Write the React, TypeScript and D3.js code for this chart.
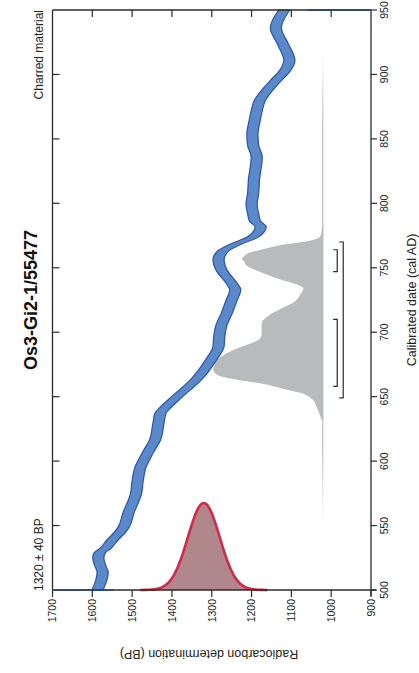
import React from "react";
import * as d3 from "d3";

// ---- Data ----
const TITLE = "Os3-Gi2-1/55477";
const MATERIAL = "Charred material";
const MEASUREMENT_LABEL = "1320 ± 40 BP";
const MEAN_BP = 1320;
const SIGMA_BP = 40;

const BP_TICKS = [1700, 1600, 1500, 1400, 1300, 1200, 1100, 1000, 900];
const CAL_TICKS = [500, 550, 600, 650, 700, 750, 800, 850, 900, 950];

// calibration curve (cal AD year -> BP centre)
const CURVE_YEARS = [500, 508, 514, 518, 525, 529, 532, 539, 545, 549, 560, 575, 585, 596, 601, 608, 616, 629, 637, 642, 650, 663, 678, 689, 697, 704, 715, 725, 733, 738, 748, 756, 762, 768, 774, 782, 786, 792, 799, 808, 818, 836, 845, 854, 863, 872, 880, 888, 896, 901, 911, 924, 936, 950];
const CURVE_BP = [1587, 1577, 1574, 1579, 1585, 1581, 1568, 1549, 1530, 1521, 1509, 1490, 1486, 1478, 1470, 1458, 1443, 1434, 1429, 1415, 1387, 1340, 1303, 1283, 1281, 1277, 1262, 1250, 1241, 1250, 1275, 1283, 1275, 1242, 1196, 1177, 1191, 1196, 1200, 1196, 1194, 1187, 1196, 1198, 1193, 1187, 1179, 1160, 1137, 1121, 1105, 1122, 1139, 1118];
const CURVE_ERR = 14;

// calibrated probability (relative)
const PROB_YEARS = [632, 642, 648, 653, 656, 660, 663, 666, 668, 671, 674, 678, 686, 690, 695, 699, 703, 707, 712, 718, 723, 729, 734, 737, 741, 746, 752, 755, 757, 759, 762, 765, 768, 771, 774, 778, 782];
const PROB_VALUES = [0.015, 0.06, 0.1, 0.21, 0.36, 0.55, 0.77, 0.94, 0.98, 1.0, 0.99, 0.97, 0.82, 0.7, 0.575, 0.56, 0.56, 0.56, 0.51, 0.39, 0.27, 0.21, 0.18, 0.24, 0.39, 0.55, 0.7, 0.72, 0.74, 0.72, 0.66, 0.52, 0.36, 0.12, 0.03, 0.015, 0.01];
const PROB_TAIL = [555, 915];

const RANGE_68 = [[658, 710], [747, 764]];
const RANGE_95 = [[649, 770]];

const CLIPPED_TRACES = [
  { bp: [1700, 1545], year: 500 },
  { bp: [1060, 900], year: 950 },
];

// ---- Layout ----
const W = 419;
const H = 673;
const FONT = "'Liberation Sans', Arial, Helvetica, sans-serif";
const AXIS = "#2b2b2b";

export default function App() {
  const x = d3.scaleLinear().domain([1700, 900]).range([52.5, 371]);
  const y = d3.scaleLinear().domain([500, 950]).range([590, 10]);

  // blue calibration band
  const curvePts = CURVE_YEARS.map((yr, i) => ({ yr, bp: CURVE_BP[i] }));
  const band = d3
    .area<{ yr: number; bp: number }>()
    .y((d) => y(d.yr))
    .x0((d) => x(d.bp + CURVE_ERR))
    .x1((d) => x(d.bp - CURVE_ERR))
    .curve(d3.curveMonotoneY)(curvePts);

  // measurement gaussian
  const gx = d3.range(MEAN_BP - 4 * SIGMA_BP, MEAN_BP + 4 * SIGMA_BP + 0.1, 2);
  const gPts = gx.map((bp) => ({ bp, p: Math.exp(-0.5 * ((bp - MEAN_BP) / SIGMA_BP) ** 2) }));
  const gy = d3.scaleLinear().domain([0, 1]).range([590, 503]);
  const gArea = d3
    .area<{ bp: number; p: number }>()
    .x((d) => x(d.bp))
    .y0(gy(0))
    .y1((d) => gy(d.p))
    .curve(d3.curveBasis)(gPts);
  const gLine = d3
    .line<{ bp: number; p: number }>()
    .x((d) => x(d.bp))
    .y((d) => gy(d.p))
    .curve(d3.curveBasis)(gPts);

  // calibrated distribution
  const baseX = x(1020);
  const pw = d3.scaleLinear().domain([0, 1]).range([baseX, baseX - 110]);
  const probPts = PROB_YEARS.map((yr, i) => ({ yr, p: PROB_VALUES[i] }));
  const probArea = d3
    .area<{ yr: number; p: number }>()
    .y((d) => y(d.yr))
    .x0(baseX)
    .x1((d) => pw(d.p))
    .curve(d3.curveMonotoneY)(probPts);

  const innerX = baseX + 14;
  const outerX = baseX + 20;
  const bracket = (r: number[], bx: number, key: string) => (
    <path
      key={key}
      d={`M${bx - 4},${y(r[1])}H${bx}V${y(r[0])}H${bx - 4}`}
      fill="none"
      stroke={AXIS}
      strokeWidth={1.2}
    />
  );

  const top = y(950);
  const bottom = y(500);
  const left = x(1700);
  const right = x(900);

  return (
    <svg
      width={W}
      height={H}
      style={{ position: "absolute", left: 0, top: 0, background: "#fff" }}
      fontFamily={FONT}
    >
      <defs>
        <linearGradient id="tailFade" x1="0" y1="0" x2="0" y2="1">
          <stop offset="0" stopColor="#c4c5c7" stopOpacity={0} />
          <stop offset="0.15" stopColor="#c4c5c7" stopOpacity={1} />
          <stop offset="0.85" stopColor="#c4c5c7" stopOpacity={1} />
          <stop offset="1" stopColor="#c4c5c7" stopOpacity={0} />
        </linearGradient>
      </defs>

      {/* tail of calibrated distribution */}
      <rect
        x={baseX - 1.2}
        y={y(PROB_TAIL[1])}
        width={1.4}
        height={y(PROB_TAIL[0]) - y(PROB_TAIL[1])}
        fill="url(#tailFade)"
      />
      <path d={probArea || ""} fill="#b9babc" />

      {/* ranges */}
      {RANGE_68.map((r, i) => bracket(r, innerX, "r68" + i))}
      {RANGE_95.map((r, i) => bracket(r, outerX, "r95" + i))}

      {/* calibration curve */}
      <path d={band || ""} fill="#5b88c9" stroke="#2a55a5" strokeWidth={1.2} />

      {/* measurement */}
      <path d={gArea || ""} fill="#b0878a" />
      <path d={gLine || ""} fill="none" stroke="#d3294b" strokeWidth={2.6} />

      {/* frame */}
      <line x1={left} x2={right} y1={top} y2={top} stroke={AXIS} strokeWidth={1.3} />
      <line x1={left} x2={left} y1={top} y2={bottom} stroke={AXIS} strokeWidth={1.3} />
      <line x1={left} x2={right + 5} y1={bottom} y2={bottom} stroke={AXIS} strokeWidth={1.3} />
      <line x1={right} x2={right} y1={top} y2={bottom + 6} stroke={AXIS} strokeWidth={1.3} />

      {CLIPPED_TRACES.map((t, i) => (
        <line
          key={"tr" + i}
          x1={x(t.bp[0])}
          x2={x(t.bp[1])}
          y1={y(t.year)}
          y2={y(t.year)}
          stroke="#24457f"
          strokeWidth={1.6}
        />
      ))}

      {/* bottom axis */}
      {BP_TICKS.map((t) => (
        <g key={"b" + t} transform={`translate(${x(t)},${bottom})`}>
          <line y1={0} y2={7} stroke={AXIS} strokeWidth={1.2} />
          <text
            transform="translate(0,9) rotate(-90)"
            textAnchor="end"
            dy="0.36em"
            fontSize={10.5}
            fill="#222"
          >
            {t}
          </text>
        </g>
      ))}
      {/* top frame ticks */}
      {BP_TICKS.slice(1, -1).map((t) => (
        <line key={"t" + t} x1={x(t)} x2={x(t)} y1={top} y2={top + 7} stroke={AXIS} strokeWidth={1.2} />
      ))}
      {/* left frame ticks */}
      {CAL_TICKS.slice(1, -1).map((t) => (
        <line key={"l" + t} x1={left} x2={left + 7} y1={y(t)} y2={y(t)} stroke={AXIS} strokeWidth={1.2} />
      ))}
      {/* right axis */}
      {CAL_TICKS.map((t) => (
        <g key={"r" + t} transform={`translate(${right},${y(t)})`}>
          <line x1={0} x2={6} stroke={AXIS} strokeWidth={1.2} />
          <text transform="translate(17,0) rotate(-90)" textAnchor="middle" fontSize={10.5} fill="#222">
            {t}
          </text>
        </g>
      ))}

      {/* axis titles */}
      <text
        transform={`translate(416,${(top + bottom) / 2}) rotate(-90)`}
        textAnchor="middle"
        fontSize={12.5}
        fill="#222"
      >
        Calibrated date (cal AD)
      </text>
      <text
        transform={`translate(209,650) rotate(180)`}
        textAnchor="middle"
        fontSize={12.5}
        fill="#222"
      >
        Radiocarbon determination (BP)
      </text>

      {/* annotations */}
      <text
        transform={`translate(37,${(top + bottom) / 2}) rotate(-90)`}
        textAnchor="middle"
        fontSize={18}
        fontWeight="bold"
        fill="#111"
      >
        {TITLE}
      </text>
      <text transform={`translate(43,${top}) rotate(-90)`} textAnchor="end" fontSize={12} fill="#222">
        {MATERIAL}
      </text>
      <text transform={`translate(43,${bottom + 1}) rotate(-90)`} textAnchor="start" fontSize={12} fill="#222">
        {MEASUREMENT_LABEL}
      </text>
    </svg>
  );
}
